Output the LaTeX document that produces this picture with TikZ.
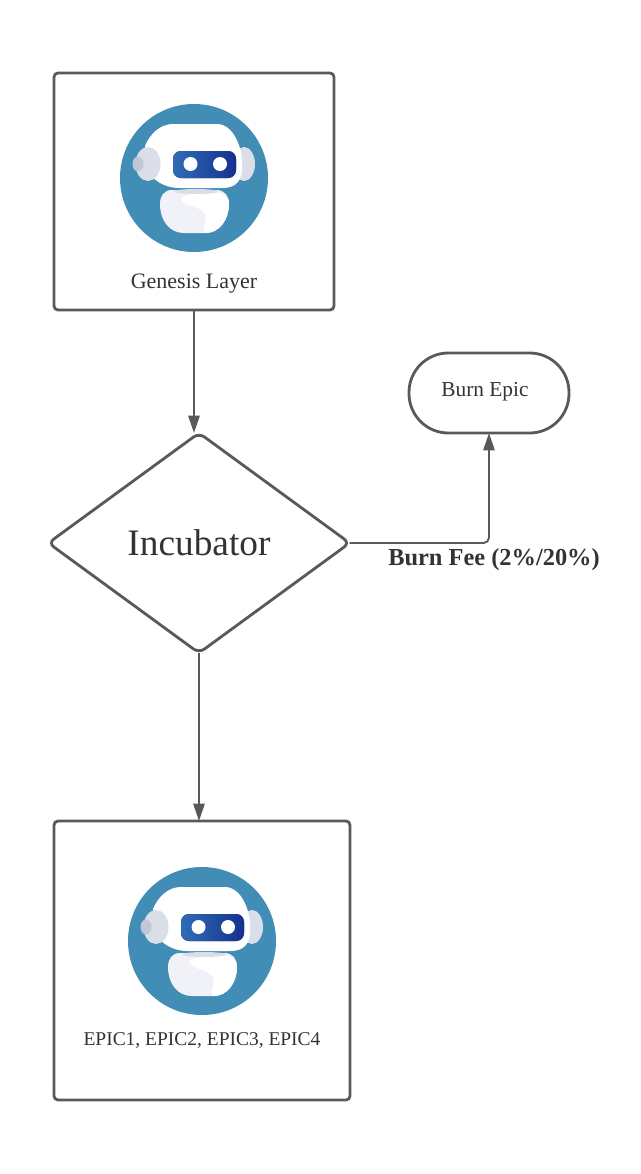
\documentclass[tikz,border=0pt]{standalone}
\usepackage{fontspec}
\setmainfont{Liberation Serif}
\usetikzlibrary{arrows.meta,shapes.geometric}
\definecolor{frameline}{HTML}{595959}
\definecolor{textdark}{HTML}{333333}
\definecolor{robotblue}{HTML}{418DB5}
\definecolor{earlight}{HTML}{D9DEE8}
\definecolor{eardark}{HTML}{C0C8D8}
\definecolor{bodylight}{HTML}{F0F2F7}
\definecolor{visorA}{HTML}{2F6DB5}
\definecolor{visorB}{HTML}{15308F}
\tikzset{
robot/.pic={
\fill[robotblue] (0,0) circle (74);
\fill[earlight] (50,-14) ellipse (11 and 17);
\fill[white] (-21,-54) .. controls (-34,-54) and (-44,-44) .. (-49,-32) -- (-49,-8) .. controls (-40,2) and (-30,10) .. (-15,10) -- (28,10) .. controls (40,10) and (47,5) .. (48,-8) .. controls (50,-28) and (40,-54) .. (23,-54) -- cycle;
\fill[earlight] (-46,-14) ellipse (12.5 and 17);
\fill[eardark] (-56,-14) ellipse (5.5 and 7.5);
\fill[rounded corners=6pt,left color=visorA,right color=visorB] (-21,-27) rectangle (42,0);
\fill[white] (-3.5,-14) circle (7);
\fill[white] (26,-14) circle (7);
\fill[bodylight] (-22,12) -- (22,12) .. controls (31,12) and (35,18) .. (35,26) .. controls (35,42) and (25,55) .. (12,55) -- (-10,55) .. controls (-25,55) and (-34,42) .. (-34,26) .. controls (-34,18) and (-30,12) .. (-22,12) -- cycle;
\fill[white] (-13,21) .. controls (-10,16) and (0,15) .. (26,15) .. controls (32,17) and (35,20) .. (35,26) .. controls (35,42) and (25,55) .. (12,55) -- (11,55) .. controls (7,50) and (14,44) .. (11,36) .. controls (7,28) and (-8,30) .. (-13,21) -- cycle;
\fill[earlight] (2,13.5) ellipse (22 and 2.5);
}}
\begin{document}
\begin{tikzpicture}[x=.75pt,y=-.75pt,
box/.style={draw=frameline,fill=white,rounded corners=3pt,line width=2.1pt,inner sep=0pt,outer sep=0pt},
label/.style={text=textdark,inner sep=0pt},
arrow/.style={-{Triangle[length=13pt,width=8.5pt]},line width=1.4pt,draw=frameline}]
\useasboundingbox (0,0) rectangle (640,1174);
\node[box,minimum width=210pt,minimum height=177.75pt] (genesis) at (194,191.5) {};
\node[box,minimum width=222pt,minimum height=209.25pt] (epics) at (202,960.5) {};
\node[box,diamond,rounded corners=5pt,minimum width=226pt,minimum height=165pt,font=\fontsize{28}{32}\selectfont,text=textdark] (incubator) at (199,543) {\raisebox{1pt}{Incubator}};
\node[box,rounded corners=29.5pt,minimum width=120pt,minimum height=60pt] (burn) at (489,393) {};
\pic at (194,178) {robot};
\pic at (202,941) {robot};
\node[label,font=\fontsize{16.5}{19}\selectfont] (genesislabel) at (194,284) {Genesis Layer};
\node[label,font=\fontsize{16}{19}\selectfont] (burnlabel) at (485,392) {Burn Epic};
\node[label,font=\fontsize{14.6}{17}\selectfont] (epicslabel) at (202,1041) {EPIC1, EPIC2, EPIC3, EPIC4};
\node[label,font=\fontsize{18.3}{21}\selectfont\bfseries] (feelabel) at (494,560) {Burn Fee (2\%/20\%)};
\draw[arrow] (genesis.south)--(genesis.south |- incubator.north);
\draw[arrow] (incubator.south)--(incubator.south |- epics.north);
\draw[arrow,rounded corners=4pt] (incubator.east)-|(burn.south);
\end{tikzpicture}
\end{document}
